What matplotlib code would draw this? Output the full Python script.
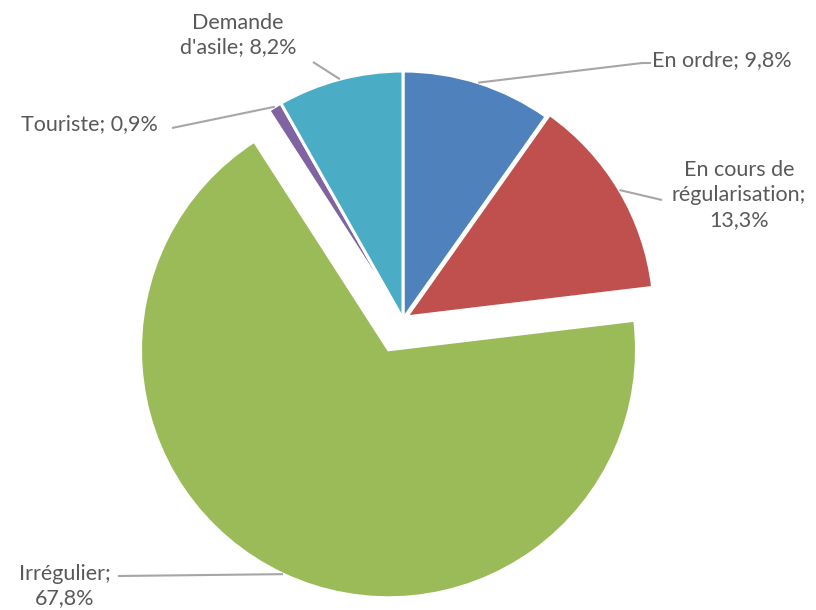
import numpy as np
import matplotlib.pyplot as plt

labels = ["En ordre; 9,8%", "En cours de\nrégularisation;\n13,3%", "Irrégulier;\n67,8%",
          "Touriste; 0,9%", "Demande\nd'asile; 8,2%"]
values = [9.8, 13.3, 67.8, 0.9, 8.2]
colors = ["#4F81BD", "#C0504D", "#9BBB59", "#8064A2", "#4BACC6"]
explode = [0, 4, 34, 0, 0]   # pixels

W, H = 816, 610
cx, cy, R = 403, H - 319, 248

# label anchor (pixel coords from top-left), text alignment, elbow point
label_pos = [
    (652, 60, "left", (642, 63)),
    (739, 195, "center", (662, 200)),
    (65, 586, "center", (118, 576)),
    (89, 124, "center", (172, 128)),
    (238, 35, "center", (313, 62)),
]

fig = plt.figure(figsize=(W / 100, H / 100), dpi=100)
ax = fig.add_axes([0, 0, 1, 1])

wedges, _ = ax.pie(values, colors=colors, startangle=90, counterclock=False,
                   radius=R, center=(cx, cy), explode=explode,
                   wedgeprops=dict(edgecolor="white", linewidth=2.2), frame=True)
ax.set_xlim(0, W)
ax.set_ylim(0, H)
ax.axis("off")

for w, lab, (tx, ty, ha, elbow) in zip(wedges, labels, label_pos):
    mid = np.deg2rad((w.theta1 + w.theta2) / 2)
    px = w.center[0] + w.r * np.cos(mid)
    py = w.center[1] + w.r * np.sin(mid)
    ex, ey = elbow
    ax.plot([px, ex], [py, H - ey], color="#A6A6A6", lw=1.5, solid_capstyle="butt")
    if ha == "left":
        ax.plot([ex, tx - 2], [H - ey, H - ey], color="#A6A6A6", lw=1.5)
    ax.text(tx, H - ty, lab, ha=ha, va="center", fontsize=15.5, color="#595959",
            family="Lato", linespacing=1.3)

fig.savefig("out.png", dpi=100)
